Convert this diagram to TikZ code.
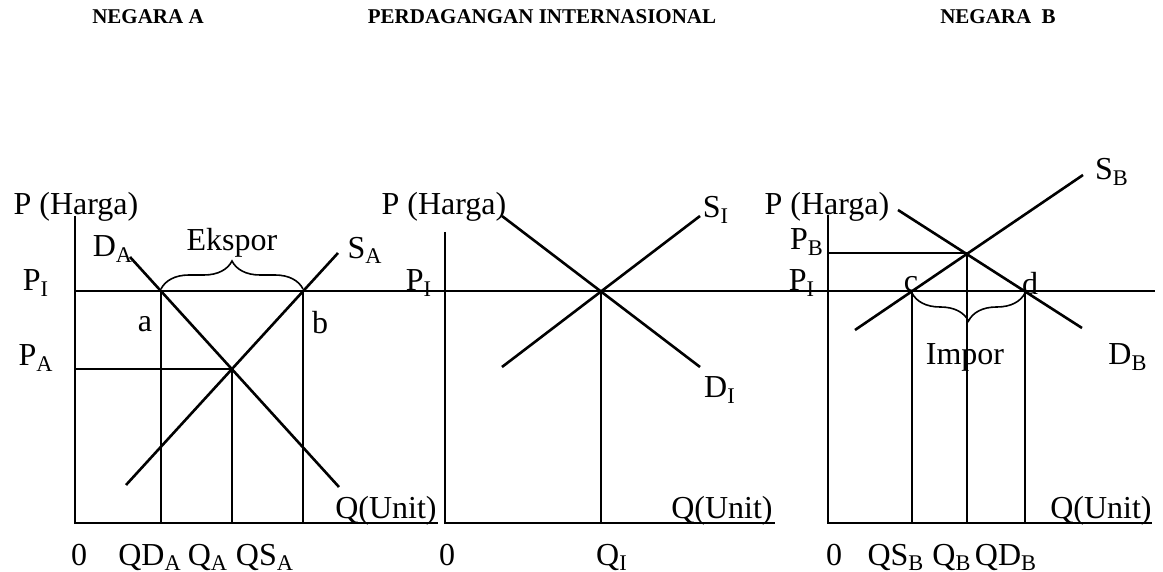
\documentclass[tikz,border=0pt]{standalone}
\usepackage{fontspec}
\setmainfont{Liberation Serif}
\usetikzlibrary{decorations.pathreplacing}
\tikzset{
	axe/.style={line width=0.8pt},
	courbe/.style={line width=1.3pt},
	lab/.style={font=\fontsize{16}{18}\selectfont, inner sep=0pt},
	titre/.style={font=\fontsize{10.5}{12}\selectfont\bfseries, inner sep=0pt},
	accolade/.style={decorate, decoration={brace, amplitude=14pt}, line width=0.8pt}
}
\begin{document}
\begin{tikzpicture}[x=0.5pt, y=-0.5pt]
	\useasboundingbox (0,0) rectangle (1163,572);
	\coordinate (oA) at (75,523);
	\coordinate (oI) at (445,523);
	\coordinate (oB) at (828,523);
	\coordinate (a) at (161,291);
	\coordinate (b) at (303,291);
	\coordinate (eA) at (232,369);
	\coordinate (eI) at (601,291);
	\coordinate (c) at (912,291);
	\coordinate (d) at (1025,291);
	\coordinate (eB) at (967,253);
	%titres
	\node[titre] (tA) at (148,17) {NEGARA A};
	\node[titre] (tI) at (542,17) {PERDAGANGAN INTERNASIONAL};
	\node[titre] (tB) at (998,17) {NEGARA\ \ B};
	%negara A
	\draw[axe] (75,216) -- (oA) -- (438,523);
	\draw[axe] (oA |- a) -- (1155,291);
	\draw[axe] (oA |- eA) -- (eA);
	\draw[axe] (a) -- (a |- oA);
	\draw[axe] (eA) -- (eA |- oA);
	\draw[axe] (b) -- (b |- oA);
	\draw[courbe] (130,257) -- (339,487);
	\draw[courbe] (126,485) -- (338,253);
	\draw[accolade] (161,289) -- (303,289);
	%internasional
	\draw[axe] (445,232) -- (oI) -- (775,523);
	\draw[axe] (eI) -- (eI |- oI);
	\draw[courbe] (502,216) -- (700,367);
	\draw[courbe] (502,367) -- (700,216);
	%negara B
	\draw[axe] (828,215) -- (oB) -- (1152,523);
	\draw[axe] (oB |- eB) -- (eB);
	\draw[axe] (c) -- (c |- oB);
	\draw[axe] (eB) -- (eB |- oB);
	\draw[axe] (d) -- (d |- oB);
	\draw[courbe] (855,330) -- (1083,175);
	\draw[courbe] (898,210) -- (1082,328);
	\draw[accolade] (1025,293) -- (912,293);
	%étiquettes
	\node[lab] (hA) at (76,207) {P (Harga)};
	\node[lab] (hI) at (444,207) {P (Harga)};
	\node[lab] (hB) at (827,207) {P (Harga)};
	\node[lab, anchor=base] (pIA) at (36,291) {P\textsubscript{I}};
	\node[lab, anchor=base] (pA) at (36,366) {P\textsubscript{A}};
	\node[lab, anchor=base] (pII) at (419,291) {P\textsubscript{I}};
	\node[lab, anchor=base] (pIB) at (802,291) {P\textsubscript{I}};
	\node[lab, anchor=base] (pB) at (807,250) {P\textsubscript{B}};
	\node[lab] (la) at (145,324) {a};
	\node[lab] (lb) at (320,323) {b};
	\node[lab] (lc) at (911,284) {c};
	\node[lab] (ld) at (1030,284) {d};
	\node[lab] (dA) at (113,249) {D\textsubscript{A}};
	\node[lab] (sA) at (365,250) {S\textsubscript{A}};
	\node[lab] (sI) at (716,210) {S\textsubscript{I}};
	\node[lab] (dI) at (720,390) {D\textsubscript{I}};
	\node[lab] (sB) at (1112,172) {S\textsubscript{B}};
	\node[lab] (dB) at (1128,357) {D\textsubscript{B}};
	\node[lab] (eks) at (232,243) {Ekspor};
	\node[lab] (imp) at (965,357) {Impor};
	\node[lab, anchor=base east] (uA) at (437,518) {Q(Unit)};
	\node[lab, anchor=base east] (uI) at (773,518) {Q(Unit)};
	\node[lab, anchor=base east] (uB) at (1152,518) {Q(Unit)};
	\node[lab, anchor=base] (zA) at (79,565) {0};
	\node[lab, anchor=base] (qdA) at (150,565) {QD\textsubscript{A}};
	\node[lab, anchor=base] (qA) at (208,565) {Q\textsubscript{A}};
	\node[lab, anchor=base] (qsA) at (265,565) {QS\textsubscript{A}};
	\node[lab, anchor=base] (zI) at (447,565) {0};
	\node[lab, anchor=base] (qI) at (612,565) {Q\textsubscript{I}};
	\node[lab, anchor=base] (zB) at (834,565) {0};
	\node[lab, anchor=base] (qsB) at (896,565) {QS\textsubscript{B}};
	\node[lab, anchor=base] (qB) at (952,565) {Q\textsubscript{B}};
	\node[lab, anchor=base] (qdB) at (1006,565) {QD\textsubscript{B}};
\end{tikzpicture}
\end{document}
